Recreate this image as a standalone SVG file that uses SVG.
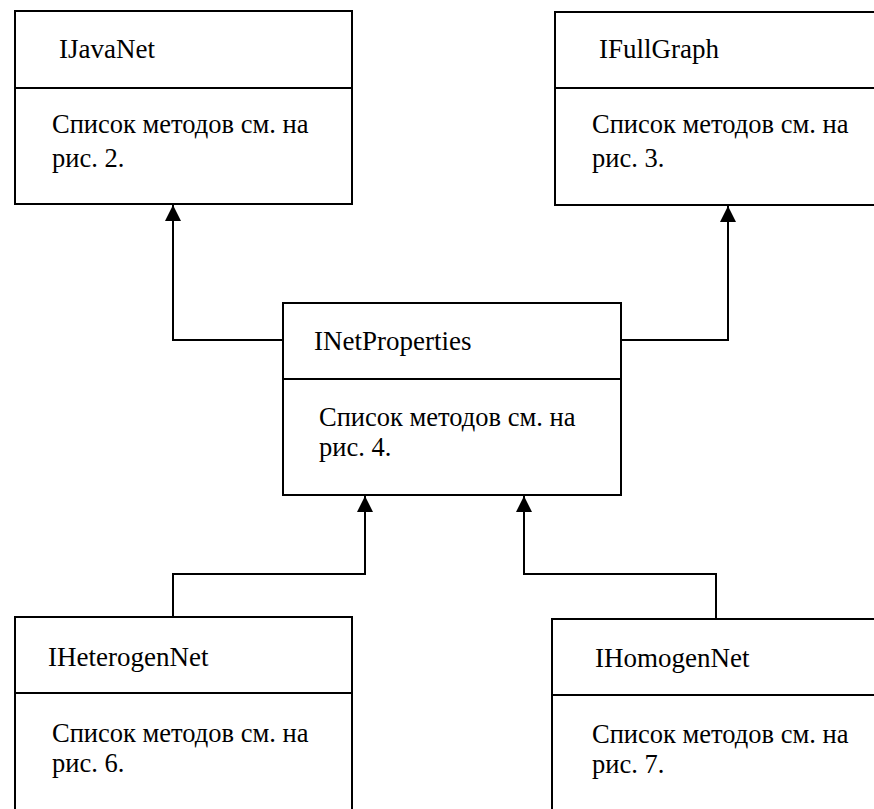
<svg xmlns="http://www.w3.org/2000/svg" width="874" height="809" viewBox="0 0 874 809">
<style>
.box{fill:#fff;stroke:#000;stroke-width:2}
.div{stroke:#000;stroke-width:2}
.t{font-family:"Liberation Serif","Times New Roman",serif;font-size:27px;fill:#000}
.b{font-family:"Liberation Serif","Times New Roman",serif;font-size:26.5px;fill:#000}
.c{fill:none;stroke:#000;stroke-width:2}
</style>
<defs>
<marker id="arr" viewBox="0 0 16 16" refX="16" refY="8" markerWidth="16" markerHeight="16" markerUnits="userSpaceOnUse" orient="auto">
<path d="M0,0 L16,8 L0,16 Z" fill="#000"/>
</marker>
</defs>
<rect width="874" height="809" fill="#fff"/>
<g id="connectors">
<path class="c" d="M283,340 L173,340 L173,205" marker-end="url(#arr)"/>
<path class="c" d="M621,340 L728,340 L728,206" marker-end="url(#arr)"/>
<path class="c" d="M173,617 L173,574 L365,574 L365,496" marker-end="url(#arr)"/>
<path class="c" d="M716,619 L716,574 L524,574 L524,496" marker-end="url(#arr)"/>
</g>
<g id="IJavaNet">
<rect class="box" x="15" y="11" width="337" height="193"/>
<line class="div" x1="15" y1="88" x2="352" y2="88"/>
<text class="t" x="59" y="58">IJavaNet</text>
<text class="b" x="52" y="133">Список методов см. на</text>
<text class="b" x="52" y="167">рис. 2.</text>
</g>
<g id="IFullGraph">
<rect class="box" x="555" y="12" width="325" height="193"/>
<line class="div" x1="555" y1="88" x2="880" y2="88"/>
<text class="t" x="599" y="58">IFullGraph</text>
<text class="b" x="592" y="133">Список методов см. на</text>
<text class="b" x="592" y="167">рис. 3.</text>
</g>
<g id="INetProperties">
<rect class="box" x="283" y="303" width="338" height="192"/>
<line class="div" x1="283" y1="379" x2="621" y2="379"/>
<text class="t" x="314" y="350">INetProperties</text>
<text class="b" x="319" y="426">Список методов см. на</text>
<text class="b" x="319" y="456">рис. 4.</text>
</g>
<g id="IHeterogenNet">
<rect class="box" x="15" y="617" width="337" height="200"/>
<line class="div" x1="15" y1="693" x2="352" y2="693"/>
<text class="t" x="48" y="666">IHeterogenNet</text>
<text class="b" x="52" y="742">Список методов см. на</text>
<text class="b" x="52" y="772">рис. 6.</text>
</g>
<g id="IHomogenNet">
<rect class="box" x="552" y="619" width="330" height="200"/>
<line class="div" x1="552" y1="695" x2="882" y2="695"/>
<text class="t" x="595" y="667">IHomogenNet</text>
<text class="b" x="592" y="743">Список методов см. на</text>
<text class="b" x="592" y="773">рис. 7.</text>
</g>
</svg>
